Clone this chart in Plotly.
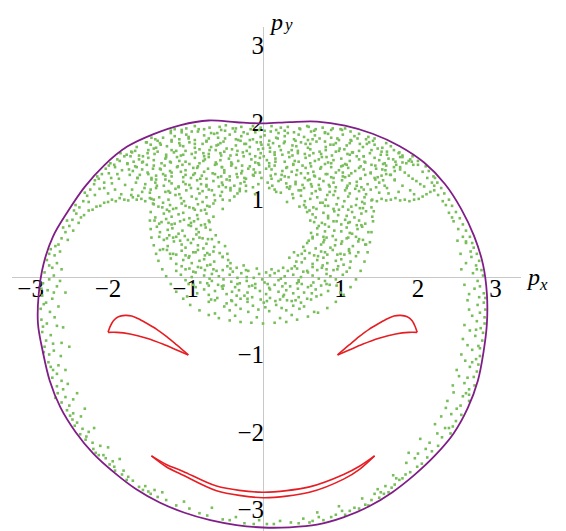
import plotly.graph_objects as go

# ---------------- style constants ----------------
GREEN = "rgb(120,190,90)"
PURPLE = "rgb(128,30,135)"
RED = "rgb(230,30,35)"
AXIS_GRAY = "rgb(200,200,200)"
FONT = "Liberation Serif, Times New Roman, serif"

# ---------------- axes ----------------
TICKS = [-3, -2, -1, 1, 2, 3]
X_RANGE = [-3.24, 3.33]
Y_RANGE = [-3.28, 3.23]

# ---------------- energy boundary (purple) ----------------
BOUNDARY = [(0.0, 1.985), (0.343, 2.002), (0.699, 2.008), (1.058, 1.955), (1.415, 1.851), (1.759, 1.693),
            (2.079, 1.479), (2.348, 1.202), (2.559, 0.878), (2.725, 0.529), (2.84, 0.161), (2.89, -0.219),
            (2.89, -0.6), (2.845, -0.975), (2.772, -1.343), (2.642, -1.694), (2.46, -2.02), (2.221, -2.304),
            (1.955, -2.555), (1.671, -2.778), (1.365, -2.964), (1.037, -3.104), (0.696, -3.198),
            (0.347, -3.232), (0.0, -3.235), (-0.343, -3.203), (-0.681, -3.14), (-1.012, -3.044),
            (-1.335, -2.912), (-1.641, -2.738), (-1.923, -2.523), (-2.19, -2.28), (-2.42, -2.0),
            (-2.615, -1.683), (-2.753, -1.338), (-2.84, -0.974), (-2.905, -0.6), (-2.895, -0.219),
            (-2.835, 0.16), (-2.711, 0.523), (-2.516, 0.853), (-2.301, 1.165), (-2.047, 1.447),
            (-1.753, 1.685), (-1.413, 1.847), (-1.062, 1.964), (-0.703, 2.022), (-0.343, 2.0), (0.0, 1.985)]

# ---------------- regular orbits (red) ----------------
LOOP_LEFT_UPPER = [(-2.0, -0.714), (-1.974, -0.641), (-1.931, -0.563), (-1.867, -0.512), (-1.781, -0.495),
                   (-1.695, -0.503), (-1.609, -0.538), (-1.501, -0.598), (-1.372, -0.675), (-1.243, -0.77),
                   (-1.114, -0.877), (-0.964, -1.006)]
LOOP_LEFT_LOWER = [(-0.964, -1.006), (-1.114, -0.942), (-1.286, -0.869), (-1.501, -0.791), (-1.716, -0.735),
                   (-1.888, -0.714), (-2.0, -0.714)]
LOOP_RIGHT_UPPER = [(1.99, -0.714), (1.965, -0.641), (1.925, -0.563), (1.862, -0.512), (1.776, -0.495),
                    (1.69, -0.503), (1.605, -0.538), (1.497, -0.598), (1.368, -0.675), (1.24, -0.77),
                    (1.112, -0.877), (0.962, -1.006)]
LOOP_RIGHT_LOWER = [(0.962, -1.006), (1.112, -0.942), (1.283, -0.869), (1.497, -0.791), (1.712, -0.735),
                    (1.882, -0.714), (1.99, -0.714)]
ARC_UPPER = [(-1.44, -2.31), (-1.25, -2.42), (-1.03, -2.51), (-0.6, -2.7), (0.0, -2.78), (0.6, -2.71),
             (1.04, -2.55), (1.25, -2.44), (1.44, -2.31)]
ARC_LOWER = [(-1.44, -2.31), (-1.25, -2.45), (-1.03, -2.56), (-0.6, -2.76), (0.0, -2.85), (0.6, -2.78),
             (1.04, -2.61), (1.25, -2.48), (1.44, -2.31)]

# ---------------- chaotic sea (green points), estimated band by band ----------------
SEA_A_X = [-1.19, -1.14, -1.05, -0.99, -0.88, -0.84, -0.76, -0.69, -0.59, -0.54, -0.48, -0.39, -0.36, -0.28,
           -0.16, -0.10, -0.03, 0.02, 0.11, 0.17, 0.28, 0.32, 0.40, 0.47, 0.57, 0.62, 0.68, 0.77, 0.80, 0.88,
           1.00, 1.06, 1.13]
SEA_A_Y = [1.89, 1.91, 1.87, 1.92, 1.95, 1.88, 1.91, 1.93, 1.86, 1.90, 1.96, 1.92, 1.88, 1.94, 1.91, 1.87,
           1.93, 1.89, 1.95, 1.90, 1.89, 1.94, 1.87, 1.92, 1.95, 1.88, 1.91, 1.93, 1.86, 1.90, 1.91, 1.92, 1.88]
SEA_B_X = [-1.44, -1.36, -1.29, -1.19, -1.14, -1.08, -0.99, -0.96, -0.88, -0.76, -0.70, -0.63, -0.58, -0.49,
           -0.43, -0.32, -0.28, -0.20, -0.13, -0.03, 0.02, 0.08, 0.17, 0.20, 0.28, 0.40, 0.46, 0.53, 0.58,
           0.67, 0.73, 0.84, 0.88, 0.96, 1.03, 1.13, 1.18, 1.24, 1.33, 1.36, 1.44]
SEA_B_Y = [1.80, 1.76, 1.80, 1.86, 1.82, 1.78, 1.84, 1.81, 1.77, 1.83, 1.79, 1.85, 1.80, 1.79, 1.84, 1.77,
           1.82, 1.85, 1.78, 1.81, 1.83, 1.76, 1.80, 1.86, 1.82, 1.78, 1.84, 1.81, 1.77, 1.83, 1.79, 1.85,
           1.80, 1.79, 1.84, 1.77, 1.82, 1.85, 1.78, 1.81, 1.79]
SEA_C_X = [-1.63, -1.51, -1.45, -1.38, -1.33, -1.24, -1.18, -1.07, -1.03, -0.95, -0.88, -0.78, -0.73, -0.67,
           -0.58, -0.55, -0.47, -0.35, -0.29, -0.22, -0.17, -0.08, -0.02, 0.09, 0.13, 0.21, 0.28, 0.38, 0.43,
           0.49, 0.58, 0.61, 0.69, 0.81, 0.87, 0.94, 0.99, 1.08, 1.14, 1.25, 1.29, 1.37, 1.44, 1.54, 1.59, 1.65]
SEA_C_Y = [1.68, 1.74, 1.71, 1.67, 1.73, 1.69, 1.75, 1.70, 1.69, 1.74, 1.67, 1.72, 1.75, 1.68, 1.71, 1.73,
           1.66, 1.70, 1.76, 1.72, 1.68, 1.74, 1.71, 1.67, 1.73, 1.69, 1.75, 1.70, 1.69, 1.74, 1.67, 1.72,
           1.75, 1.68, 1.71, 1.73, 1.66, 1.70, 1.76, 1.72, 1.68, 1.74, 1.71, 1.67, 1.73, 1.69]
SEA_D_X = [-1.76, -1.69, -1.65, -1.55, -1.49, -1.41, -1.36, -1.25, -1.18, -1.15, -1.06, -1.00, -0.92, -0.82,
           -0.77, -0.70, -0.61, -0.54, -0.50, -0.40, -0.34, -0.26, -0.21, -0.10, -0.03, 0.00, 0.09, 0.15,
           0.23, 0.33, 0.38, 0.45, 0.54, 0.61, 0.65, 0.75, 0.81, 0.89, 0.94, 1.05, 1.12, 1.15, 1.24, 1.30,
           1.38, 1.48, 1.53, 1.60, 1.69, 1.76, 1.80]
SEA_D_Y = [1.58, 1.61, 1.63, 1.56, 1.60, 1.66, 1.62, 1.58, 1.64, 1.61, 1.57, 1.63, 1.59, 1.65, 1.60, 1.59,
           1.64, 1.57, 1.62, 1.65, 1.58, 1.61, 1.63, 1.56, 1.60, 1.66, 1.62, 1.58, 1.64, 1.61, 1.57, 1.63,
           1.59, 1.65, 1.60, 1.59, 1.64, 1.57, 1.62, 1.65, 1.58, 1.61, 1.63, 1.56, 1.60, 1.66, 1.62, 1.58,
           1.64, 1.61, 1.57]
SEA_E_X = [-1.71, -1.60, -1.56, -1.48, -1.41, -1.31, -1.26, -1.20, -1.11, -1.08, -1.00, -0.88, -0.82, -0.75,
           -0.70, -0.61, -0.55, -0.44, -0.40, -0.32, -0.25, -0.15, -0.10, -0.04, 0.05, 0.08, 0.16, 0.28,
           0.34, 0.41, 0.46, 0.55, 0.61, 0.72, 0.76, 0.84, 0.91, 1.01, 1.06, 1.12, 1.21, 1.24, 1.32, 1.44,
           1.50, 1.57, 1.62, 1.71, 1.77, 1.88, 1.92]
SEA_E_Y = [1.56, 1.52, 1.48, 1.54, 1.51, 1.47, 1.53, 1.49, 1.55, 1.50, 1.49, 1.54, 1.47, 1.52, 1.55, 1.48,
           1.51, 1.53, 1.46, 1.50, 1.56, 1.52, 1.48, 1.54, 1.51, 1.47, 1.53, 1.49, 1.55, 1.50, 1.49, 1.54,
           1.47, 1.52, 1.55, 1.48, 1.51, 1.53, 1.46, 1.50, 1.56, 1.52, 1.48, 1.54, 1.51, 1.47, 1.53, 1.49,
           1.55, 1.50, 1.49]
SEA_F_X = [-1.68, -1.65, -1.56, -1.50, -1.42, -1.32, -1.27, -1.20, -1.11, -1.04, -1.00, -0.90, -0.84, -0.76,
           -0.71, -0.60, -0.53, -0.50, -0.41, -0.35, -0.27, -0.17, -0.12, -0.05, 0.04, 0.11, 0.15, 0.25,
           0.31, 0.39, 0.44, 0.55, 0.62, 0.65, 0.74, 0.80, 0.88, 0.98, 1.03, 1.10, 1.19, 1.26, 1.30, 1.40,
           1.46, 1.54, 1.59, 1.70, 1.77]
SEA_F_Y = [1.37, 1.43, 1.39, 1.45, 1.40, 1.39, 1.44, 1.37, 1.42, 1.45, 1.38, 1.41, 1.43, 1.36, 1.40, 1.46,
           1.42, 1.38, 1.44, 1.41, 1.37, 1.43, 1.39, 1.45, 1.40, 1.39, 1.44, 1.37, 1.42, 1.45, 1.38, 1.41,
           1.43, 1.36, 1.40, 1.46, 1.42, 1.38, 1.44, 1.41, 1.37, 1.43, 1.39, 1.45, 1.40, 1.39, 1.44, 1.37, 1.42]
SEA_G_X = [-1.59, -1.49, -1.44, -1.38, -1.29, -1.26, -1.18, -1.06, -1.00, -0.93, -0.88, -0.79, -0.73, -0.62,
           -0.58, -0.50, -0.43, -0.33, -0.28, -0.22, -0.13, -0.10, -0.02, 0.10, 0.16, 0.23, 0.28, 0.37, 0.43,
           0.54, 0.58, 0.66, 0.73, 0.83, 0.88, 0.94, 1.03, 1.06, 1.14, 1.26, 1.32, 1.39, 1.44, 1.53, 1.59, 1.70]
SEA_G_Y = [1.32, 1.35, 1.28, 1.31, 1.33, 1.26, 1.30, 1.36, 1.32, 1.28, 1.34, 1.31, 1.27, 1.33, 1.29, 1.35,
           1.30, 1.29, 1.34, 1.27, 1.32, 1.35, 1.28, 1.31, 1.33, 1.26, 1.30, 1.36, 1.32, 1.28, 1.34, 1.31,
           1.27, 1.33, 1.29, 1.35, 1.30, 1.29, 1.34, 1.27, 1.32, 1.35, 1.28, 1.31, 1.33, 1.26]
SEA_H_X = [-1.52, -1.44, -1.39, -1.28, -1.21, -1.18, -1.09, -1.03, -0.95, -0.85, -0.80, -0.73, -0.64, -0.57,
           -0.53, -0.43, -0.37, -0.29, -0.24, -0.13, -0.06, 0.06, 0.12, 0.20, 0.30, 0.35, 0.42, 0.51, 0.58,
           0.62, 0.72, 0.78, 0.86, 0.91, 1.02, 1.09, 1.12, 1.21, 1.27, 1.35, 1.45, 1.50, 1.57]
SEA_H_Y = [1.20, 1.26, 1.22, 1.18, 1.24, 1.21, 1.17, 1.23, 1.19, 1.25, 1.20, 1.19, 1.24, 1.17, 1.22, 1.25,
           1.18, 1.21, 1.23, 1.16, 1.20, 1.22, 1.18, 1.24, 1.21, 1.17, 1.23, 1.19, 1.25, 1.20, 1.19, 1.24,
           1.17, 1.22, 1.25, 1.18, 1.21, 1.23, 1.16, 1.20, 1.26, 1.22, 1.18]
SEA_I_X = [-1.46, -1.38, -1.26, -1.20, -1.13, -1.08, -0.99, -0.93, -0.82, -0.78, -0.70, -0.63, -0.53, -0.48,
           -0.42, -0.33, -0.30, -0.22, -0.10, 0.08, 0.17, 0.23, 0.34, 0.38, 0.46, 0.53, 0.63, 0.68, 0.74,
           0.83, 0.86, 0.94, 1.06, 1.12, 1.19, 1.24, 1.33, 1.39, 1.50]
SEA_I_Y = [1.09, 1.15, 1.10, 1.09, 1.14, 1.07, 1.12, 1.15, 1.08, 1.11, 1.13, 1.06, 1.10, 1.16, 1.12, 1.08,
           1.14, 1.11, 1.07, 1.15, 1.10, 1.09, 1.14, 1.07, 1.12, 1.15, 1.08, 1.11, 1.13, 1.06, 1.10, 1.16,
           1.12, 1.08, 1.14, 1.11, 1.07, 1.13, 1.09]
SEA_J_X = [-1.44, -1.34, -1.29, -1.22, -1.13, -1.06, -1.02, -0.92, -0.86, -0.78, -0.73, -0.62, -0.55, -0.52,
           -0.43, -0.37, 0.31, 0.39, 0.49, 0.54, 0.61, 0.70, 0.77, 0.81, 0.91, 0.97, 1.05, 1.10, 1.21, 1.28,
           1.31, 1.40]
SEA_J_Y = [1.01, 1.03, 0.96, 1.00, 1.06, 1.02, 0.98, 1.04, 1.01, 0.97, 1.03, 0.99, 1.05, 1.00, 0.99, 1.04,
           0.97, 1.02, 1.05, 0.98, 1.01, 1.03, 0.96, 1.00, 1.06, 1.02, 0.98, 1.04, 1.01, 0.97, 1.03, 0.99]
SEA_K_X = [-1.41, -1.35, -1.24, -1.20, -1.12, -1.05, -0.95, -0.90, -0.84, -0.75, -0.72, -0.64, -0.52,
           0.47, 0.53, 0.60, 0.65, 0.74, 0.80, 0.91, 0.95, 1.03, 1.10, 1.20, 1.25, 1.31, 1.40]
SEA_K_Y = [0.94, 0.91, 0.87, 0.93, 0.89, 0.95, 0.90, 0.89, 0.94, 0.87, 0.92, 0.95, 0.88,
           0.91, 0.93, 0.86, 0.90, 0.96, 0.92, 0.88, 0.94, 0.91, 0.87, 0.93, 0.89, 0.95, 0.90]
SEA_L_X = [-1.39, -1.28, -1.21, -1.18, -1.09, -1.03, -0.95, -0.85, -0.80, -0.73, -0.64,
           0.57, 0.64, 0.68, 0.78, 0.84, 0.92, 0.97, 1.08, 1.15, 1.18, 1.27, 1.33, 1.41]
SEA_L_Y = [0.77, 0.82, 0.85, 0.78, 0.81, 0.83, 0.76, 0.80, 0.86, 0.82, 0.78,
           0.84, 0.81, 0.77, 0.83, 0.79, 0.85, 0.80, 0.79, 0.84, 0.77, 0.82, 0.85, 0.78]
SEA_M_X = [-1.40, -1.34, -1.25, -1.22, -1.14, -1.02, -0.96, -0.89, -0.84, -0.75, -0.69,
           0.61, 0.72, 0.76, 0.84, 0.91, 1.01, 1.06, 1.12, 1.21, 1.24, 1.32]
SEA_M_Y = [0.73, 0.69, 0.75, 0.70, 0.69, 0.74, 0.67, 0.72, 0.75, 0.68, 0.71,
           0.73, 0.66, 0.70, 0.76, 0.72, 0.68, 0.74, 0.71, 0.67, 0.73, 0.69]
SEA_N_X = [-1.37, -1.33, -1.23, -1.17, -1.09, -1.04, -0.93, -0.86, -0.83, -0.74, -0.68,
           0.62, 0.70, 0.80, 0.85, 0.92, 1.01, 1.08, 1.12, 1.22, 1.28, 1.36]
SEA_N_Y = [0.65, 0.58, 0.61, 0.63, 0.56, 0.60, 0.66, 0.62, 0.58, 0.64, 0.61,
           0.57, 0.63, 0.59, 0.65, 0.60, 0.59, 0.64, 0.57, 0.62, 0.65, 0.58]
SEA_O_X = [-1.34, -1.28, -1.21, -1.16, -1.07, -1.01, -0.90, -0.86, -0.78, -0.71, -0.61,
           0.59, 0.64, 0.70, 0.79, 0.82, 0.90, 1.02, 1.08, 1.15, 1.20, 1.29]
SEA_O_Y = [0.52, 0.48, 0.54, 0.51, 0.47, 0.53, 0.49, 0.55, 0.50, 0.49, 0.54,
           0.47, 0.52, 0.55, 0.48, 0.51, 0.53, 0.46, 0.50, 0.56, 0.52, 0.48]
SEA_P_X = [-1.29, -1.23, -1.15, -1.05, -1.00, -0.93, -0.84, -0.77, -0.73, -0.63, -0.57, -0.49,
           0.52, 0.57, 0.68, 0.75, 0.78, 0.87, 0.93, 1.01, 1.11, 1.16, 1.23, 1.32]
SEA_P_Y = [0.36, 0.40, 0.46, 0.42, 0.38, 0.44, 0.41, 0.37, 0.43, 0.39, 0.45, 0.40,
           0.39, 0.44, 0.37, 0.42, 0.45, 0.38, 0.41, 0.43, 0.36, 0.40, 0.46, 0.42]
SEA_Q_X = [-1.24, -1.20, -1.12, -1.05, -0.95, -0.90, -0.84, -0.75, -0.72, -0.64, -0.52, -0.46,
           0.40, 0.45, 0.54, 0.60, 0.71, 0.75, 0.83, 0.90, 1.00, 1.05, 1.11, 1.20, 1.23]
SEA_Q_Y = [0.35, 0.30, 0.29, 0.34, 0.27, 0.32, 0.35, 0.28, 0.31, 0.33, 0.26, 0.30,
           0.32, 0.28, 0.34, 0.31, 0.27, 0.33, 0.29, 0.35, 0.30, 0.29, 0.34, 0.27, 0.32]
SEA_R_X = [-1.19, -1.12, -1.03, -0.96, -0.92, -0.82, -0.76, -0.68, -0.63, -0.52, -0.45, -0.42,
           0.34, 0.43, 0.50, 0.54, 0.64, 0.70, 0.78, 0.83, 0.94, 1.01, 1.04, 1.13]
SEA_R_Y = [0.24, 0.17, 0.22, 0.25, 0.18, 0.21, 0.23, 0.16, 0.20, 0.26, 0.22, 0.18,
           0.25, 0.20, 0.19, 0.24, 0.17, 0.22, 0.25, 0.18, 0.21, 0.23, 0.16, 0.20]
SEA_S_X = [-1.12, -1.05, -0.95, -0.90, -0.84, -0.75, -0.72, -0.64, -0.52, -0.46, -0.39, -0.34, -0.25,
           -0.19, -0.08, 0.04, 0.11, 0.26, 0.32, 0.41, 0.44, 0.52, 0.64, 0.70, 0.77, 0.82, 0.91, 0.97,
           1.08, 1.12]
SEA_S_Y = [0.08, 0.14, 0.11, 0.07, 0.13, 0.09, 0.15, 0.10, 0.09, 0.14, 0.07, 0.12, 0.15, 0.08, 0.11,
           0.06, 0.10, 0.12, 0.08, 0.14, 0.11, 0.07, 0.13, 0.09, 0.15, 0.10, 0.09, 0.14, 0.07, 0.12]
SEA_T_X = [-1.06, -1.00, -0.92, -0.87, -0.76, -0.69, -0.66, -0.57, -0.51, -0.43, -0.33, -0.28, -0.21,
           -0.12, -0.05, -0.01, 0.09, 0.15, 0.23, 0.28, 0.39, 0.46, 0.49, 0.58, 0.64, 0.72, 0.82, 0.87,
           0.94, 1.03]
SEA_T_Y = [0.03, -0.04, 0.00, 0.06, 0.02, -0.02, 0.04, 0.01, -0.03, 0.03, -0.01, 0.05, 0.00, -0.01,
           0.04, -0.03, 0.02, 0.05, -0.02, 0.01, 0.03, -0.04, 0.00, 0.06, 0.02, -0.02, 0.04, 0.01, -0.03, 0.03]
SEA_U_X = [-0.96, -0.87, -0.81, -0.70, -0.66, -0.58, -0.51, -0.41, -0.36, -0.30, -0.21, -0.18, -0.10,
           0.02, 0.08, 0.15, 0.20, 0.29, 0.35, 0.46, 0.50, 0.58, 0.65, 0.75, 0.80, 0.86, 0.95]
SEA_U_Y = [-0.09, -0.13, -0.07, -0.11, -0.05, -0.10, -0.11, -0.06, -0.13, -0.08, -0.05, -0.12, -0.09,
           -0.07, -0.14, -0.10, -0.04, -0.08, -0.12, -0.06, -0.09, -0.13, -0.07, -0.11, -0.05, -0.10, -0.11]
SEA_V_X = [-0.85, -0.76, -0.70, -0.62, -0.52, -0.47, -0.40, -0.31, -0.24, -0.20, -0.10, -0.04, 0.04,
           0.09, 0.20, 0.27, 0.30, 0.39, 0.45, 0.53, 0.63, 0.68, 0.75, 0.84]
SEA_V_Y = [-0.21, -0.16, -0.23, -0.18, -0.15, -0.22, -0.19, -0.17, -0.24, -0.20, -0.14, -0.18, -0.22,
           -0.16, -0.19, -0.23, -0.17, -0.21, -0.15, -0.20, -0.21, -0.16, -0.23, -0.18]
SEA_W_X = [-0.70, -0.67, -0.59, -0.47, -0.41, -0.34, -0.29, -0.20, -0.14, -0.03, 0.01, 0.09, 0.16, 0.26,
           0.31, 0.37, 0.46, 0.49, 0.57, 0.69]
SEA_W_Y = [-0.32, -0.29, -0.27, -0.34, -0.30, -0.24, -0.28, -0.32, -0.26, -0.29, -0.33, -0.27, -0.31,
           -0.25, -0.30, -0.31, -0.26, -0.33, -0.28, -0.25]
SEA_X_X = [-0.50, -0.43, -0.35, -0.29, -0.19, -0.13, -0.06, 0.03, 0.08, 0.17, 0.24, 0.30, 0.39, 0.47, 0.53]
SEA_X_Y = [-0.38, -0.43, -0.36, -0.41, -0.45, -0.37, -0.42, -0.39, -0.44, -0.36, -0.40, -0.43, -0.37,
           -0.41, -0.38]

# extra points filling the dense cap between the rows above
FILL_1_X = [-1.05, -0.92, -0.83, -0.67, -0.56, -0.49, -0.35, -0.25, -0.13, -0.05, 0.10, 0.23, 0.32, 0.48,
            0.59, 0.66, 0.80, 0.90, 1.02]
FILL_1_Y = [1.90, 1.88, 1.91, 1.86, 1.94, 1.89, 1.92, 1.87, 1.95, 1.90, 1.88, 1.93, 1.86, 1.91, 1.94, 1.89,
            1.87, 1.92, 1.90]
FILL_2_X = [-1.50, -1.39, -1.32, -1.18, -1.08, -0.96, -0.88, -0.73, -0.60, -0.51, -0.35, -0.24, -0.17,
            -0.03, 0.07, 0.19, 0.27, 0.42, 0.55, 0.64, 0.80, 0.91, 0.98, 1.12, 1.22, 1.34, 1.42]
FILL_2_Y = [1.74, 1.78, 1.71, 1.77, 1.73, 1.79, 1.72, 1.76, 1.70, 1.75, 1.78, 1.72, 1.77, 1.74, 1.71, 1.79,
            1.73, 1.76, 1.72, 1.78, 1.75, 1.71, 1.77, 1.73, 1.79, 1.72, 1.76]
FILL_3_X = [-1.70, -1.60, -1.48, -1.40, -1.25, -1.12, -1.03, -0.87, -0.76, -0.69, -0.55, -0.42, -0.33,
            -0.17, -0.06, 0.01, 0.15, 0.25, 0.37, 0.45, 0.60, 0.73, 0.82, 0.98, 1.09, 1.16, 1.30, 1.40,
            1.52, 1.60, 1.75]
FILL_3_Y = [1.62, 1.57, 1.64, 1.59, 1.55, 1.63, 1.58, 1.61, 1.56, 1.64, 1.60, 1.57, 1.63, 1.59, 1.65, 1.56,
            1.61, 1.58, 1.64, 1.60, 1.57, 1.62, 1.55, 1.63, 1.59, 1.61, 1.56, 1.64, 1.58, 1.62, 1.60]
FILL_4_X = [-1.75, -1.63, -1.55, -1.41, -1.33, -1.19, -1.10, -0.95, -0.85, -0.77, -0.62, -0.53, -0.41,
            -0.27, -0.19, -0.06, 0.08, 0.16, 0.30, 0.39, 0.51, 0.67, 0.75, 0.88, 1.01, 1.08, 1.24, 1.31,
            1.45, 1.55, 1.69, 1.80, 1.94]
FILL_4_Y = [1.47, 1.42, 1.49, 1.44, 1.40, 1.48, 1.43, 1.46, 1.41, 1.50, 1.45, 1.42, 1.48, 1.44, 1.40, 1.47,
            1.43, 1.49, 1.41, 1.46, 1.44, 1.50, 1.42, 1.47, 1.43, 1.45, 1.41, 1.49, 1.44, 1.46, 1.42, 1.48,
            1.45]
FILL_5_X = [-1.62, -1.48, -1.38, -1.26, -1.18, -1.03, -0.90, -0.81, -0.65, -0.54, -0.47, -0.34, -0.24,
            -0.12, -0.04, 0.11, 0.24, 0.33, 0.49, 0.60, 0.67, 0.81, 0.91, 1.03, 1.11, 1.26, 1.39, 1.48, 1.64]
FILL_5_Y = [1.28, 1.33, 1.26, 1.31, 1.35, 1.29, 1.32, 1.27, 1.34, 1.30, 1.26, 1.33, 1.28, 1.31, 1.35, 1.27,
            1.32, 1.29, 1.34, 1.26, 1.30, 1.33, 1.28, 1.35, 1.31, 1.27, 1.34, 1.29, 1.32]
FILL_6_X = [-1.45, -1.37, -1.22, -1.09, -1.00, -0.84, -0.73, -0.66, -0.52, -0.42, -0.30, -0.22, 0.15, 0.31,
            0.42, 0.49, 0.63, 0.73, 0.85, 0.93, 1.08, 1.21, 1.30, 1.46]
FILL_6_Y = [1.13, 1.18, 1.11, 1.16, 1.20, 1.14, 1.17, 1.12, 1.19, 1.15, 1.11, 1.18, 1.13, 1.16, 1.20, 1.12,
            1.17, 1.14, 1.19, 1.11, 1.15, 1.18, 1.13, 1.16]

FILL_RING = [(-1.3, 0.9), (-1.16, 0.88), (-1.0, 0.92), (-0.88, 0.87), (-0.69, 0.91),
             (-1.31, 0.71), (-1.18, 0.68), (-1.07, 0.72), (-0.93, 0.7), (-0.8, 0.67), (-0.7, 0.73),
             (-1.24, 0.5), (-1.12, 0.52), (-0.97, 0.48), (-0.82, 0.51), (-0.66, 0.49),
             (-1.16, 0.3), (-1.0, 0.28), (-0.87, 0.32), (-0.69, 0.29), (-0.56, 0.31),
             (0.55, 0.9), (0.69, 0.88), (0.84, 0.92), (0.98, 0.87), (1.14, 0.91), (1.29, 0.89),
             (0.66, 0.71), (0.8, 0.68), (0.95, 0.72), (1.1, 0.7), (1.27, 0.67),
             (0.64, 0.5), (0.78, 0.52), (0.94, 0.48), (1.1, 0.51), (1.24, 0.49),
             (0.5, 0.3), (0.66, 0.28), (0.8, 0.32), (0.96, 0.29), (1.12, 0.31),
             (-1.0, 0.1), (-0.8, 0.12), (-0.6, 0.08), (-0.42, 0.11), (-0.22, 0.09), (0.2, 0.08), (0.37, 0.11),
             (0.57, 0.08), (0.76, 0.12), (0.96, 0.1),
             (-0.9, -0.1), (-0.72, -0.08), (-0.53, -0.12), (-0.33, -0.09), (-0.14, -0.11), (0.06, -0.09),
             (0.25, -0.12), (0.44, -0.08), (0.62, -0.11), (0.82, -0.09),
             (-0.62, -0.3), (-0.4, -0.31), (-0.2, -0.28), (0.05, -0.31), (0.22, -0.29), (0.42, -0.3),
             (0.62, -0.29)]

# dotted outer ring around the central sea
OUTER_RING = [(-1.42, 0.95), (-1.45, 0.84), (-1.46, 0.73), (-1.45, 0.62), (-1.44, 0.51), (-1.41, 0.41),
              (-1.38, 0.3), (-1.35, 0.21), (-1.3, 0.1), (-1.25, 0.01), (-1.19, -0.09), (-1.12, -0.19),
              (-1.03, -0.28), (-0.94, -0.36), (-0.82, -0.43), (-0.7, -0.49), (-0.57, -0.53), (-0.43, -0.56),
              (-0.29, -0.58), (-0.15, -0.59), (0.0, -0.6), (0.15, -0.59), (0.3, -0.58), (0.44, -0.55),
              (0.58, -0.51), (0.71, -0.46), (0.83, -0.4), (0.94, -0.32), (1.04, -0.23), (1.13, -0.13),
              (1.2, -0.03), (1.26, 0.08), (1.31, 0.2), (1.35, 0.32), (1.38, 0.45), (1.4, 0.58), (1.42, 0.72),
              (1.43, 0.85), (-0.36, -0.5), (0.37, -0.49), (-0.98, -0.25), (1.0, -0.2), (-1.33, 0.35),
              (1.33, 0.42), (-0.62, -0.47), (0.66, -0.45), (-0.08, -0.52), (0.22, -0.53)]

WING_LEFT = [(-1.41, 1.0), (-1.46, 1.02), (-1.52, 0.98), (-1.57, 1.01), (-1.63, 1.0), (-1.68, 1.03),
             (-1.74, 0.99), (-1.79, 1.0), (-1.85, 1.02), (-1.9, 0.98), (-1.95, 1.0), (-2.0, 0.97),
             (-2.05, 0.96), (-2.1, 0.92), (-2.15, 0.91), (-2.2, 0.87), (-2.25, 0.86),
             (-1.75, 1.46), (-1.82, 1.38), (-1.72, 1.32), (-1.86, 1.27), (-1.64, 1.22), (-1.78, 1.19),
             (-1.91, 1.13), (-1.69, 1.13), (-1.56, 1.1), (-2.0, 1.08), (-1.83, 1.07), (-1.61, 1.05),
             (-1.95, 1.21), (-1.73, 1.39), (-1.67, 1.49), (-1.79, 1.56), (-1.84, 1.6), (-1.88, 1.33),
             (-1.96, 1.28), (-1.53, 1.15), (-1.7, 1.06), (-2.05, 1.15), (-1.92, 1.45), (-1.85, 1.5),
             (-1.62, 1.28),
             (-1.88, 1.52), (-1.97, 1.47), (-1.91, 1.42), (-2.03, 1.4), (-2.08, 1.33), (-1.99, 1.34),
             (-2.12, 1.27), (-2.05, 1.22), (-2.18, 1.2), (-2.23, 1.13), (-2.11, 1.14), (-2.27, 1.05),
             (-2.17, 1.06), (-2.32, 0.98), (-2.25, 0.97), (-2.37, 0.9), (-2.41, 0.82), (-2.31, 0.8),
             (-2.46, 0.74), (-2.38, 0.7), (-2.5, 0.66), (-2.55, 0.58), (-2.45, 0.6), (-2.6, 0.5),
             (-2.52, 0.48), (-2.64, 0.42), (-2.14, 1.3), (-2.3, 1.09), (-2.42, 0.93), (-2.53, 0.73),
             (-2.44, 0.86), (-1.99, 1.44), (-2.17, 1.25), (-2.35, 0.77), (-2.58, 0.64)]

WING_RIGHT = [(1.41, 1.0), (1.47, 0.98), (1.53, 1.01), (1.59, 0.99), (1.65, 1.0), (1.71, 1.02),
              (1.77, 0.99), (1.83, 1.0), (1.89, 0.98), (1.95, 1.0), (2.01, 1.01), (2.06, 1.04),
              (2.11, 1.07), (2.16, 1.1), (2.21, 1.12),
              (1.77, 1.39), (1.83, 1.35), (1.88, 1.31), (1.93, 1.27), (1.98, 1.24), (2.03, 1.2), (2.08, 1.17),
              (1.7, 1.25), (1.8, 1.18), (1.6, 1.15), (1.9, 1.12), (1.75, 1.1), (1.65, 1.32), (1.55, 1.25),
              (1.85, 1.47), (1.95, 1.07), (1.62, 1.08), (1.72, 1.45), (1.8, 1.55), (1.9, 1.52), (1.68, 1.52),
              (1.58, 1.38),
              (1.93, 1.56), (2.0, 1.5), (2.0, 1.45), (2.1, 1.43), (2.14, 1.37), (2.06, 1.36), (2.2, 1.3),
              (2.12, 1.28), (2.25, 1.22), (2.3, 1.15), (2.21, 1.18), (2.34, 1.08), (2.26, 1.06), (2.4, 1.0),
              (2.32, 0.98), (2.44, 0.92), (2.49, 0.84), (2.4, 0.83), (2.54, 0.76), (2.46, 0.72), (2.58, 0.68),
              (2.62, 0.6), (2.52, 0.62), (2.67, 0.52), (2.58, 0.52), (2.7, 0.44), (2.62, 0.46), (2.36, 0.93),
              (2.44, 0.77), (2.18, 1.22), (2.22, 1.28)]

EDGE_LEFT = [(-2.74, 0.36), (-2.62, 0.33), (-2.69, 0.28), (-2.79, 0.22), (-2.66, 0.18), (-2.72, 0.12),
             (-2.82, 0.06), (-2.7, 0.02), (-2.76, -0.03), (-2.84, -0.08), (-2.66, -0.12), (-2.78, -0.17),
             (-2.85, -0.24), (-2.72, -0.28), (-2.8, -0.33), (-2.87, -0.41), (-2.75, -0.45), (-2.64, -0.38),
             (-2.86, -0.55), (-2.79, -0.6), (-2.69, -0.52), (-2.85, -0.71), (-2.74, -0.75), (-2.8, -0.82),
             (-2.82, -0.9), (-2.7, -0.95), (-2.76, -1.0), (-2.77, -1.1), (-2.64, -1.14), (-2.71, -1.2),
             (-2.72, -1.3), (-2.6, -1.34), (-2.66, -1.41), (-2.52, -1.38), (-2.65, -1.5), (-2.55, -1.55),
             (-2.6, -1.62), (-2.45, -1.58), (-2.53, -1.72), (-2.45, -1.76), (-2.46, -1.84), (-2.35, -1.8),
             (-2.43, -1.92), (-2.33, -1.96), (-2.36, -2.03), (-2.25, -2.0), (-2.29, -2.1), (-2.2, -2.14),
             (-2.19, -2.22), (-2.1, -2.18), (-2.12, -2.3), (-2.03, -2.34), (-1.98, -2.42), (-1.94, -2.38),
             (-1.91, -2.5), (-1.82, -2.55), (-1.76, -2.62), (-1.74, -2.58), (-1.6, -2.71), (-1.55, -2.75),
             (-1.45, -2.8), (-1.48, -2.77), (-2.4, -1.5), (-2.3, -1.7), (-2.18, -1.95), (-2.0, -2.2),
             (-1.85, -2.35), (-2.55, -1.2), (-2.5, -0.9), (-2.58, -0.65), (-2.55, -0.2), (-2.6, 0.1),
             (-2.76, 0.3), (-2.76, 0.15), (-2.86, -0.15), (-2.7, -0.2), (-2.83, -0.35), (-2.66, -0.63),
             (-2.84, -0.64), (-2.71, -0.86), (-2.83, -0.97), (-2.61, -1.02), (-2.74, -1.16), (-2.66, -1.25),
             (-2.58, -1.45), (-2.68, -1.56), (-2.5, -1.66), (-2.49, -1.79), (-2.4, -1.88), (-2.28, -2.06),
             (-2.16, -2.27), (-2.06, -2.3), (-1.92, -2.45), (-1.8, -2.5), (-1.68, -2.63), (-1.52, -2.7),
             (-1.4, -2.75), (-2.6, -0.85), (-2.62, -0.05), (-2.68, 0.4)]

EDGE_BOTTOM = [(-1.36, -2.84), (-1.3, -2.78), (-1.25, -2.88), (-1.12, -2.95), (-1.02, -2.9), (-0.95, -2.99),
               (-0.82, -3.05), (-0.72, -3.08), (-0.66, -2.98), (-0.52, -3.13), (-0.43, -3.14), (-0.35, -3.1),
               (-0.24, -3.18), (-0.12, -3.19), (-0.05, -3.14), (0.05, -3.19), (0.14, -3.19), (0.22, -3.15),
               (0.36, -3.17), (0.46, -3.18), (0.52, -3.12), (0.64, -3.15), (0.72, -3.1), (0.78, -3.14),
               (0.7, -3.04), (0.94, -3.07), (1.02, -3.02), (1.06, -3.07), (0.98, -2.96), (1.24, -2.99),
               (1.32, -2.94), (1.36, -2.95), (1.28, -2.86), (1.5, -2.85), (1.56, -2.8), (1.62, -2.78),
               (1.48, -2.74), (1.58, -2.7), (1.7, -2.68), (1.76, -2.62), (1.8, -2.6), (1.68, -2.56),
               (1.84, -2.55), (1.4, -2.88), (1.44, -2.8), (1.18, -2.98), (1.12, -3.02), (0.88, -3.1),
               (0.6, -3.17), (1.66, -2.72), (1.72, -2.6), (1.52, -2.78)]

EDGE_RIGHT = [(2.05, -2.41), (1.96, -2.34), (1.99, -2.45), (1.88, -2.27), (2.12, -2.33),
              (2.26, -2.18), (2.15, -2.14), (2.18, -2.25), (2.03, -2.09),
              (2.42, -2.02), (2.35, -1.95), (2.31, -2.07), (2.22, -1.9), (2.45, -1.93),
              (2.56, -1.78), (2.43, -1.77), (2.49, -1.86), (2.36, -1.69),
              (2.66, -1.6), (2.58, -1.54), (2.55, -1.66), (2.46, -1.49), (2.66, -1.52),
              (2.73, -1.4), (2.6, -1.37), (2.66, -1.45), (2.53, -1.28),
              (2.76, -1.22), (2.67, -1.16), (2.72, -1.29), (2.61, -1.08), (2.78, -1.13),
              (2.8, -1.02), (2.7, -0.94), (2.75, -1.06), (2.64, -0.88),
              (2.83, -0.82), (2.74, -0.76), (2.78, -0.89), (2.67, -0.69), (2.84, -0.72),
              (2.86, -0.6), (2.76, -0.57), (2.81, -0.66), (2.7, -0.5),
              (2.87, -0.42), (2.77, -0.36), (2.8, -0.46), (2.64, -0.3), (2.85, -0.33),
              (2.85, -0.21), (2.73, -0.15), (2.79, -0.26), (2.6, -0.1),
              (2.84, 0.02), (2.71, 0.05), (2.77, -0.05), (2.56, 0.1), (2.82, 0.09),
              (2.79, 0.21), (2.69, 0.26), (2.75, 0.15), (2.55, 0.3),
              (2.72, 0.38), (2.62, 0.44), (2.68, 0.33), (2.51, 0.47), (2.76, 0.3),
              (2.86, -0.52), (2.8, -0.12), (2.66, -0.22), (2.87, -0.27), (2.76, 0.1), (2.62, 0.18),
              (2.66, -0.42), (2.6, -0.62), (2.75, -0.68), (2.58, -0.8), (2.8, -0.92), (2.56, -1.0),
              (2.7, -1.1), (2.5, -1.2), (2.64, -1.3), (2.45, -1.4), (2.62, -1.5), (2.38, -1.6),
              (2.5, -1.7), (2.3, -1.8), (2.4, -1.95), (2.25, -2.02), (2.1, -2.22), (2.0, -2.28),
              (1.85, -2.4), (1.9, -2.52)]

SEA_BANDS = [
    ("A", SEA_A_X, SEA_A_Y), ("B", SEA_B_X, SEA_B_Y), ("C", SEA_C_X, SEA_C_Y), ("D", SEA_D_X, SEA_D_Y),
    ("E", SEA_E_X, SEA_E_Y), ("F", SEA_F_X, SEA_F_Y), ("G", SEA_G_X, SEA_G_Y), ("H", SEA_H_X, SEA_H_Y),
    ("I", SEA_I_X, SEA_I_Y), ("J", SEA_J_X, SEA_J_Y), ("K", SEA_K_X, SEA_K_Y), ("L", SEA_L_X, SEA_L_Y),
    ("M", SEA_M_X, SEA_M_Y), ("N", SEA_N_X, SEA_N_Y), ("O", SEA_O_X, SEA_O_Y), ("P", SEA_P_X, SEA_P_Y),
    ("Q", SEA_Q_X, SEA_Q_Y), ("R", SEA_R_X, SEA_R_Y), ("S", SEA_S_X, SEA_S_Y), ("T", SEA_T_X, SEA_T_Y),
    ("U", SEA_U_X, SEA_U_Y), ("V", SEA_V_X, SEA_V_Y), ("W", SEA_W_X, SEA_W_Y), ("X", SEA_X_X, SEA_X_Y),
    ("F1", FILL_1_X, FILL_1_Y), ("F2", FILL_2_X, FILL_2_Y), ("F3", FILL_3_X, FILL_3_Y),
    ("F4", FILL_4_X, FILL_4_Y), ("F5", FILL_5_X, FILL_5_Y), ("F6", FILL_6_X, FILL_6_Y),
]


def split(pairs):
    return [p[0] for p in pairs], [p[1] for p in pairs]


green_x, green_y = [], []
for name, xs, ys in SEA_BANDS:
    if len(xs) != len(ys):
        raise ValueError(f"band {name}: {len(xs)} x vs {len(ys)} y")
    green_x += xs
    green_y += ys
for pairs in (FILL_RING, OUTER_RING, WING_LEFT, WING_RIGHT, EDGE_LEFT, EDGE_BOTTOM, EDGE_RIGHT):
    xs, ys = split(pairs)
    green_x += xs
    green_y += ys

fig = go.Figure()
fig.add_trace(go.Scatter(x=green_x, y=green_y, mode="markers",
                         marker=dict(symbol="square", size=2.6, color=GREEN, line=dict(width=0)),
                         hoverinfo="skip", showlegend=False))

bx, by = split(BOUNDARY)
fig.add_trace(go.Scatter(x=bx, y=by, mode="lines",
                         line=dict(color=PURPLE, width=1.8, shape="spline", smoothing=1.0),
                         hoverinfo="skip", showlegend=False))

for seg in (LOOP_LEFT_UPPER, LOOP_LEFT_LOWER, LOOP_RIGHT_UPPER, LOOP_RIGHT_LOWER, ARC_UPPER, ARC_LOWER):
    sx, sy = split(seg)
    fig.add_trace(go.Scatter(x=sx, y=sy, mode="lines",
                             line=dict(color=RED, width=1.6, shape="spline", smoothing=0.8),
                             hoverinfo="skip", showlegend=False))

x0_frac = (0 - X_RANGE[0]) / (X_RANGE[1] - X_RANGE[0])
y0_frac = (0 - Y_RANGE[0]) / (Y_RANGE[1] - Y_RANGE[0])

axis_common = dict(showgrid=False, zeroline=True, zerolinecolor=AXIS_GRAY, zerolinewidth=1,
                   showline=False, ticks="", tickvals=TICKS,
                   tickfont=dict(family=FONT, size=25, color="black"),
                   anchor="free", layer="below traces", fixedrange=True)

# the page body has an 8px margin, so the figure is sized to fit the 566x531 window
TOP_PAPER = 1 + 19 / 504  # paper y of the figure's top edge

fig.update_layout(
    width=558, height=523,
    margin=dict(l=4, r=45, t=19, b=0),
    paper_bgcolor="white", plot_bgcolor="white",
    showlegend=False,
    xaxis=dict(range=X_RANGE, position=y0_frac, ticklabelstandoff=-6, **axis_common),
    yaxis=dict(range=Y_RANGE, position=x0_frac, ticklabelstandoff=-1, **axis_common),
    annotations=[
        # p_y axis label: italic p with a smaller italic y set as its subscript
        dict(text="<i>p</i>", xref="x", x=0.07, xanchor="left",
             yref="paper", y=TOP_PAPER - 0.5 / 504, yanchor="top", showarrow=False, borderpad=0,
             font=dict(family=FONT, size=24, color="black")),
        dict(text="<i>y</i>", xref="x", x=0.25, xanchor="left",
             yref="paper", y=TOP_PAPER - 6 / 504, yanchor="top", showarrow=False, borderpad=0,
             font=dict(family=FONT, size=17, color="black")),
        dict(text="<i>p</i><sub><i>x</i></sub>", xref="paper", x=1.006, xanchor="left",
             yref="y", y=-0.02, yanchor="middle", showarrow=False,
             font=dict(family=FONT, size=24, color="black")),
    ],
)

fig.write_html("out.html")
